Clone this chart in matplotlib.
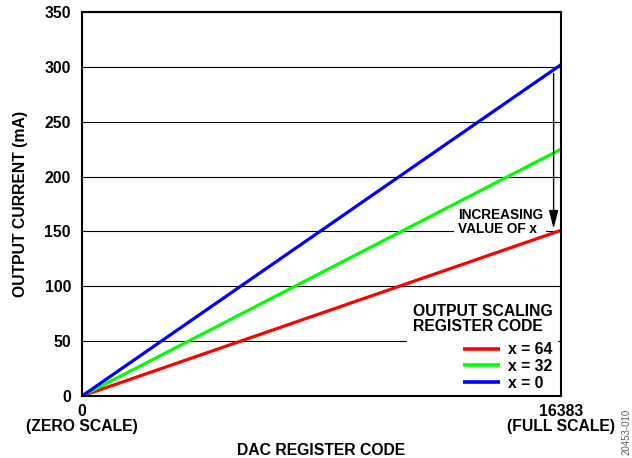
import matplotlib
matplotlib.use("Agg")
import matplotlib.pyplot as plt
import numpy as np

plt.rcParams['font.family'] = ['Liberation Sans', 'DejaVu Sans']
plt.rcParams['font.weight'] = 'bold'

codes = [0, 16383]
series_labels = ["x = 64", "x = 32", "x = 0"]
series_colors = ["#ff0000", "#00ff00", "#0000ff"]
full_scale_ma = [151, 225, 302]
yticks = [0, 50, 100, 150, 200, 250, 300, 350]
xtick_labels = ["0\n(ZERO SCALE)", "16383\n(FULL SCALE)"]

FS = 11.3

fig = plt.figure(figsize=(6.32, 4.58), dpi=100)
ax = fig.add_axes([82/632, 1 - 396/458, (561-82)/632, (396-12)/458])

for lab, col, fs in zip(series_labels, series_colors, full_scale_ma):
    ax.plot(codes, [0, fs], color=col, lw=2.3, label=lab, zorder=4, solid_capstyle='butt')

ax.set_xlim(0, 16383)
ax.set_ylim(0, 350)
ax.set_yticks(yticks)
ax.set_yticklabels([str(v) for v in yticks], fontsize=FS, fontweight='bold')
ax.set_xticks(codes)
ax.set_xticklabels(xtick_labels, fontsize=FS, fontweight='bold', linespacing=1.0)
ax.tick_params(axis='y', length=0, pad=8)
ax.tick_params(axis='x', length=0, pad=6)
ax.grid(axis='y', color='black', lw=0.8, zorder=1)
for s in ax.spines.values():
    s.set_linewidth(1.5)
    s.set_zorder(7)

ax.set_xlabel("DAC REGISTER CODE", fontsize=FS, fontweight='bold', labelpad=6)
ax.set_ylabel("OUTPUT CURRENT (mA)", fontsize=FS, fontweight='bold', labelpad=12)

# Arrow showing the decreasing full-scale current as x grows
ax.annotate("", xy=(16130, 152.5), xytext=(16130, 294),
            arrowprops=dict(arrowstyle="-|>,head_length=1.1,head_width=0.28",
                            color='black', lw=1.0, shrinkA=0, shrinkB=0), zorder=5)
ax.text(12850, 145.8, "INCREASING\nVALUE OF x", fontsize=9.8, fontweight='bold',
        ha='left', va='bottom', linespacing=1.0, multialignment='left', zorder=3,
        bbox=dict(facecolor='white', edgecolor='none', pad=2.5))

leg = ax.legend(title="OUTPUT SCALING\nREGISTER CODE", loc='lower right',
                bbox_to_anchor=(0.994, 0.0),
                frameon=True, fancybox=False, framealpha=1, edgecolor='none',
                fontsize=FS, title_fontsize=FS, alignment='right',
                handlelength=2.36, handletextpad=0.5, labelspacing=0.1,
                borderaxespad=0.0, borderpad=0.35)
leg.set_zorder(6)
leg._legend_box.sep = 6.0
leg.get_title().set_fontweight('bold')
leg.get_title().set_multialignment('left')
leg.get_title().set_linespacing(1.0)
for t in leg.get_texts():
    t.set_fontweight('bold')
for h in leg.get_lines():
    h.set_linewidth(2.6)

fig.text(627/632, 1 - 432/458, "20453-010", rotation=90, fontsize=7, color='#606060',
         ha='center', va='center', fontweight='normal')

fig.savefig("out.png", dpi=100)
